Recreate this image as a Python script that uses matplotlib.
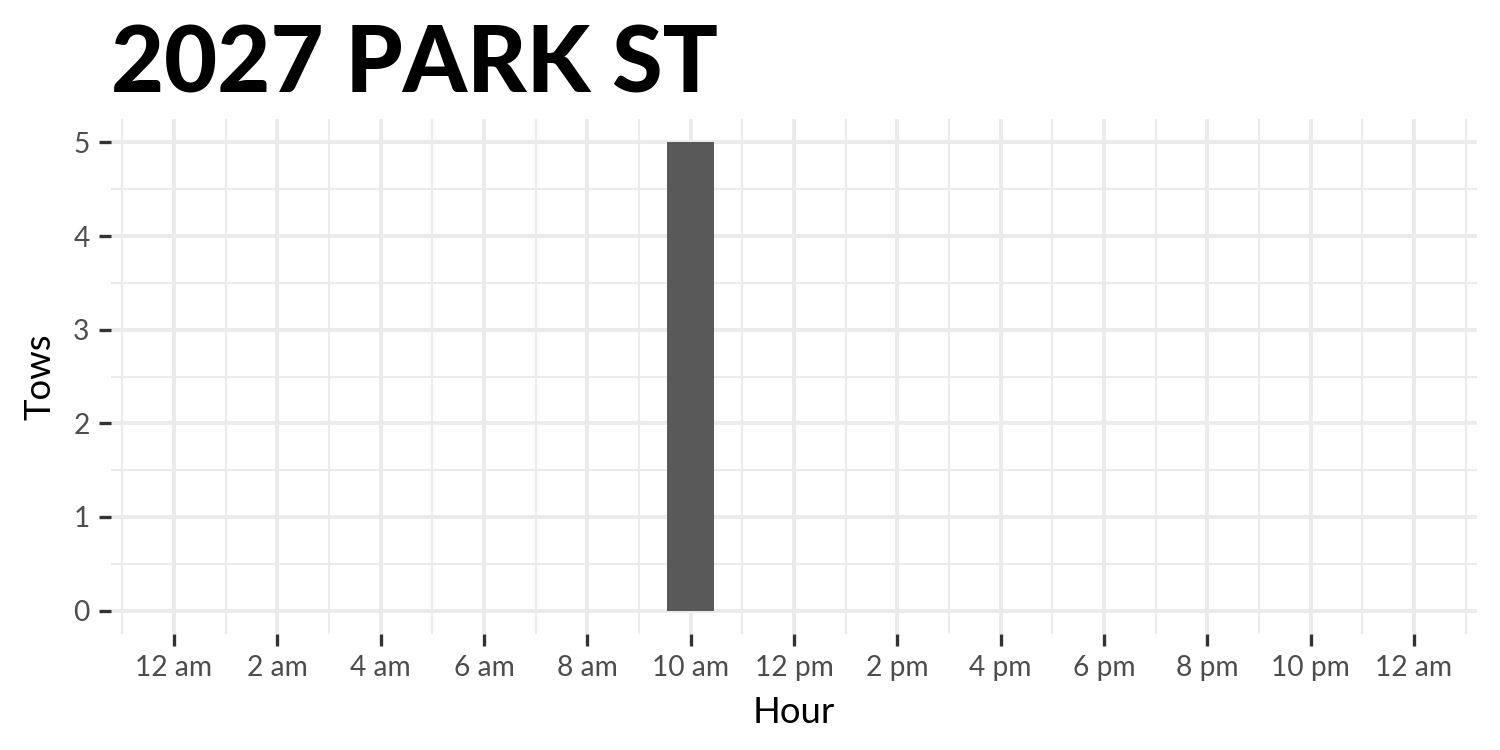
#!/usr/bin/env python3
"""Tows by hour for 2027 PARK ST -- ggplot-minimal look in matplotlib."""
import matplotlib
matplotlib.use("Agg")
import matplotlib.pyplot as plt
from matplotlib.ticker import FixedLocator

# data
hours = [0, 1, 2, 3, 4, 5, 6, 7, 8, 9, 10, 11,
         12, 13, 14, 15, 16, 17, 18, 19, 20, 21, 22, 23]
tows = [0, 0, 0, 0, 0, 0, 0, 0, 0, 0, 5, 0,
        0, 0, 0, 0, 0, 0, 0, 0, 0, 0, 0, 0]
xtick_pos = [0, 2, 4, 6, 8, 10, 12, 14, 16, 18, 20, 22, 24]
xtick_labels = ["12 am", "2 am", "4 am", "6 am", "8 am", "10 am", "12 pm",
                "2 pm", "4 pm", "6 pm", "8 pm", "10 pm", "12 am"]
yticks = [0, 1, 2, 3, 4, 5]
title = "2027 PARK ST"

plt.rcParams.update({
    "font.family": ["Lato", "DejaVu Sans"],
    "figure.dpi": 150,
})

GRID = "#EBEBEB"
fig = plt.figure(figsize=(10, 5), dpi=150)
ax = fig.add_axes([0.074, 0.1547, 0.9107, 0.6866])

ax.bar(hours, tows, width=0.9, color="#595959", zorder=3)

ax.set_xlim(-1.22, 25.22)
ax.set_ylim(-0.25, 5.25)

ax.set_xticks(xtick_pos)
ax.set_xticklabels(xtick_labels)
ax.set_yticks(yticks)
ax.xaxis.set_minor_locator(FixedLocator([h + 1 for h in range(-2, 25, 2)]))
ax.yaxis.set_minor_locator(FixedLocator([0.5, 1.5, 2.5, 3.5, 4.5]))

ax.grid(which="major", color=GRID, lw=1.9, zorder=0)
ax.grid(which="minor", color=GRID, lw=1.0, zorder=0)
ax.set_axisbelow(True)

for s in ax.spines.values():
    s.set_visible(False)

ax.tick_params(which="major", length=5.8, width=1.6, color="#333333",
               labelcolor="#4D4D4D", labelsize=13.5, pad=4.5)
ax.tick_params(which="minor", length=0)

ax.set_xlabel("Hour", fontsize=17.5, labelpad=7)
ax.set_ylabel("Tows", fontsize=17.5, labelpad=8)

fig.text(0.074, 0.877, title, fontsize=44, fontweight="black",
         ha="left", va="baseline")

fig.savefig("out.png", dpi=150)
